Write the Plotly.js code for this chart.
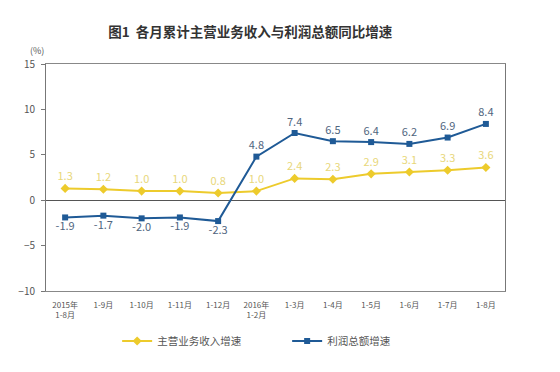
<!DOCTYPE html>
<html><head><meta charset="utf-8">
<script src="https://cdn.plot.ly/plotly-3.0.1.min.js"></script>
<style>html,body{margin:0;padding:0;background:#fff}#c{width:560px;height:372px}</style>
</head><body><div id="c"></div>
<script>
const categories = ["2015年<br>1-8月","1-9月","1-10月","1-11月","1-12月","2016年<br>1-2月","1-3月","1-4月","1-5月","1-6月","1-7月","1-8月"];
const revenueGrowth = [1.3,1.2,1.0,1.0,0.8,1.0,2.4,2.3,2.9,3.1,3.3,3.6];
const profitGrowth = [-1.9,-1.7,-2.0,-1.9,-2.3,4.8,7.4,6.5,6.4,6.2,6.9,8.4];
const seriesNames = ["主营业务收入增速","利润总额增速"];

const font = "'Noto Sans CJK SC', 'Noto Sans', sans-serif";
const idx = categories.map((_, i) => i);

const traces = [
  {
    x: idx, y: revenueGrowth, name: seriesNames[0], type: 'scatter', mode: 'lines+markers+text',
    line: {color: '#EDCB2C', width: 2},
    marker: {symbol: 'diamond', size: 7, color: '#EDCB2C'},
    text: revenueGrowth.map(v => v.toFixed(1)),
    textposition: 'top center',
    textfont: {family: font, size: 11, color: '#E8D77A'},
    cliponaxis: false
  },
  {
    x: idx, y: profitGrowth, name: seriesNames[1], type: 'scatter', mode: 'lines+markers+text',
    line: {color: '#1F5A96', width: 2},
    marker: {symbol: 'square', size: 6, color: '#1F5A96'},
    text: profitGrowth.map(v => v.toFixed(1)),
    textposition: profitGrowth.map(v => v < 0 ? 'bottom center' : 'top center'),
    textfont: {family: font, size: 11, color: '#50657E'},
    cliponaxis: false
  }
];

const layout = {
  width: 560, height: 372,
  margin: {l: 46, r: 55, t: 64, b: 81},
  paper_bgcolor: '#fff', plot_bgcolor: '#fff',
  font: {family: font, size: 10, color: '#555'},
  title: {text: '<b>图1  各月累计主营业务收入与利润总额同比增速</b>', x: 0.447, xanchor: 'center', y: 0.912, yanchor: 'middle',
          font: {family: font, size: 13.5, color: '#333'}},
  xaxis: {
    type: 'linear', range: [-0.5, 11.5], tickmode: 'array', tickvals: idx, ticktext: categories,
    showgrid: false, zeroline: false, showline: true, linecolor: '#888', linewidth: 1, mirror: true,
    ticks: '', ticklabelstandoff: 6, tickfont: {family: font, size: 8, color: '#555'}
  },
  xaxis2: {
    type: 'linear', range: [-0.5, 11.5], overlaying: 'x', anchor: 'free', position: 0.6,
    tickmode: 'linear', tick0: 0.5, dtick: 1, ticks: 'inside', ticklen: 4, tickcolor: '#555',
    showticklabels: false, showgrid: false, zeroline: false, showline: false
  },
  yaxis: {
    range: [-10, 15], tickmode: 'linear', tick0: -10, dtick: 5,
    showgrid: false, zeroline: true, zerolinecolor: '#555', zerolinewidth: 1,
    showline: true, linecolor: '#777', linewidth: 1, mirror: true,
    ticks: 'outside', ticklen: 4, tickcolor: '#777', ticklabelstandoff: 4,
    tickfont: {family: font, size: 10, color: '#555'}
  },
  showlegend: true,
  legend: {orientation: 'h', x: 0.155, xanchor: 'left', y: -0.22, yanchor: 'middle',
           entrywidth: 125, entrywidthmode: 'pixels',
           font: {family: font, size: 10.5, color: '#555'}, itemwidth: 30, traceorder: 'normal'},
  annotations: [
    {text: '(%)', xref: 'paper', yref: 'paper', x: -0.02, y: 1.06, xanchor: 'center', yanchor: 'middle',
     showarrow: false, font: {family: font, size: 9, color: '#555'}}
  ]
};

Plotly.newPlot('c', traces, layout, {displayModeBar: false, staticPlot: true});
</script>
</body></html>
